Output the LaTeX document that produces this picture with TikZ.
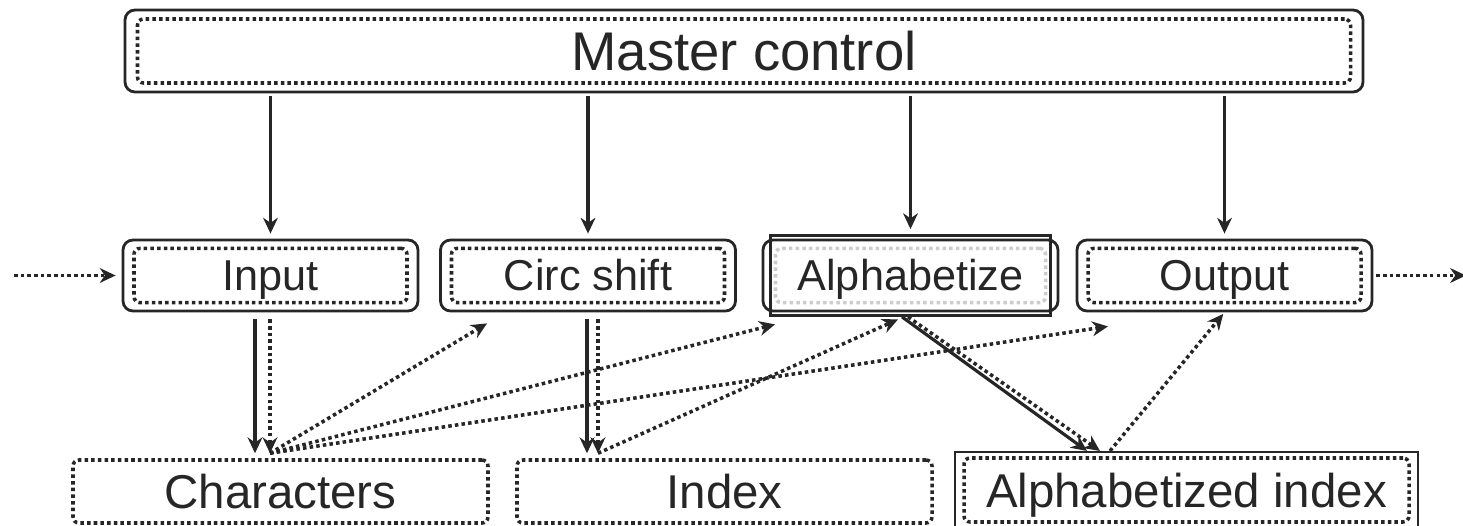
\documentclass[tikz,border=0pt]{standalone}
\usepackage{fontspec}
\setmainfont{Liberation Sans}
\usetikzlibrary{arrows.meta}
\definecolor{inkgray}{RGB}{38,38,38}
\definecolor{lightdots}{RGB}{205,205,205}

\begin{document}
\begin{tikzpicture}[module/.style={draw=inkgray, thick, rounded corners=0.1cm, minimum width=2.95cm, minimum height=0.71cm},
    dotbox/.style={draw=inkgray, line width=1pt, dash pattern=on 1pt off 0.9pt, rounded corners=0.06cm, text=inkgray, text depth=0pt},
    bigtext/.style={font=\fontsize{15.5}{18}\selectfont, text height=11.1pt},
    modtext/.style={font=\fontsize{12.3}{15}\selectfont, text height=8.8pt},
    datatext/.style={font=\fontsize{13.5}{16}\selectfont, text height=9.7pt},
    flow/.style={draw=inkgray, line width=0.9pt, -{Stealth[length=4.5pt, width=4.2pt]}},
    data/.style={draw=inkgray, line width=1pt, dash pattern=on 1pt off 0.9pt, -{Stealth[length=4.5pt, width=4.2pt]}}]
    \useasboundingbox (0,0) rectangle (14.63,5.25);
    
    \node[module, minimum width=12.38cm, minimum height=0.82cm] at (7.44, 4.74) (master) {};
    \node[dotbox, bigtext, minimum width=12.13cm, minimum height=0.64cm] at (master) (master-in) {Master control};
    
    \node[module] at (2.705, 2.495) (input) {};
    \node[dotbox, modtext, minimum width=2.73cm, minimum height=0.5cm] at (input) (input-in) {Input};
    \node[module] at (5.88, 2.495) (circ) {};
    \node[dotbox, modtext, minimum width=2.73cm, minimum height=0.5cm] at (circ) (circ-in) {Circ shift};
    \node[module] at (9.105, 2.495) (alpha) {};
    \node[draw=inkgray, thick, minimum width=2.8cm, minimum height=0.8cm] at (alpha) (alpha-sq) {};
    \node[dotbox, modtext, draw=lightdots, minimum width=2.7cm, minimum height=0.5cm] at (alpha) (alpha-in) {Alphabetize};
    \node[module] at (12.245, 2.495) (output) {};
    \node[dotbox, modtext, minimum width=2.73cm, minimum height=0.5cm] at (output) (output-in) {Output};
    
    \node[dotbox, datatext, minimum width=4.15cm, minimum height=0.63cm] at (2.805, 0.335) (chars) {Characters};
    \node[dotbox, datatext, minimum width=4.15cm, minimum height=0.63cm] at (7.245, 0.335) (index) {Index};
    \node[draw=inkgray, semithick, minimum width=4.63cm, minimum height=0.76cm] at (11.865, 0.35) (aidx-sq) {};
    \node[dotbox, datatext, minimum width=4.45cm, minimum height=0.64cm] at (aidx-sq) (aidx) {Alphabetized index};
    
    \coordinate (source) at (0.14, 2.495);
    \coordinate (sink) at (14.66, 2.495);
    \coordinate (chars-in) at ([xshift=-1.05mm, yshift=0.5mm]chars.north);
    \coordinate (index-in) at ([xshift=-12.65mm, yshift=0.5mm]index.north);
    
    % control
    \draw (master.south -| input.north) edge[flow, shorten <=0.3mm, shorten >=0.5mm] (input.north);
    \draw (master.south -| circ.north) edge[flow, shorten <=0.3mm, shorten >=0.5mm] (circ.north);
    \draw (master.south -| alpha.north) edge[flow, shorten <=0.3mm, shorten >=0.5mm] (alpha-sq.north);
    \draw (master.south -| output.north) edge[flow, shorten <=0.3mm, shorten >=0.5mm] (output.north);
    
    \draw (source) edge[data, shorten >=0.6mm] (input.west);
    \draw (output.east) edge[data, shorten <=0.3mm] (sink);
    
    % calls and data
    \draw ([xshift=-1.55mm]input.south) edge[flow, shorten <=0.7mm] ([xshift=-1.55mm]input.south |- chars-in);
    \draw (input.south -| chars-in) edge[data, shorten <=0.7mm] (chars-in);
    \draw ([xshift=-0.1mm]circ.south) edge[flow, shorten <=0.7mm] ([xshift=-0.1mm]circ.south |- index-in);
    \draw (circ.south -| index-in) edge[data, shorten <=0.7mm] (index-in);
    
    \draw (chars-in) edge[data] ([xshift=-10.1mm, yshift=-1.1mm]circ.south);
    \draw (chars-in) edge[data] ([xshift=-13.55mm, yshift=-1.2mm]alpha.south);
    \draw (chars-in) edge[data] ([xshift=-11.65mm, yshift=-1.4mm]output.south);
    \draw (index-in) edge[data] ([xshift=-1.25mm, yshift=-0.7mm]alpha.south);
    
    \draw ([xshift=-0.85mm]alpha-sq.south) edge[flow] ([xshift=-9.95mm]aidx-sq.north);
    \draw ([xshift=-0.25mm]alpha-sq.south) edge[data] ([xshift=-8.65mm]aidx-sq.north);
    \draw ([xshift=-7.65mm]aidx-sq.north) edge[data, shorten >=0.2mm] (output.south);
    
\end{tikzpicture}
\end{document}
